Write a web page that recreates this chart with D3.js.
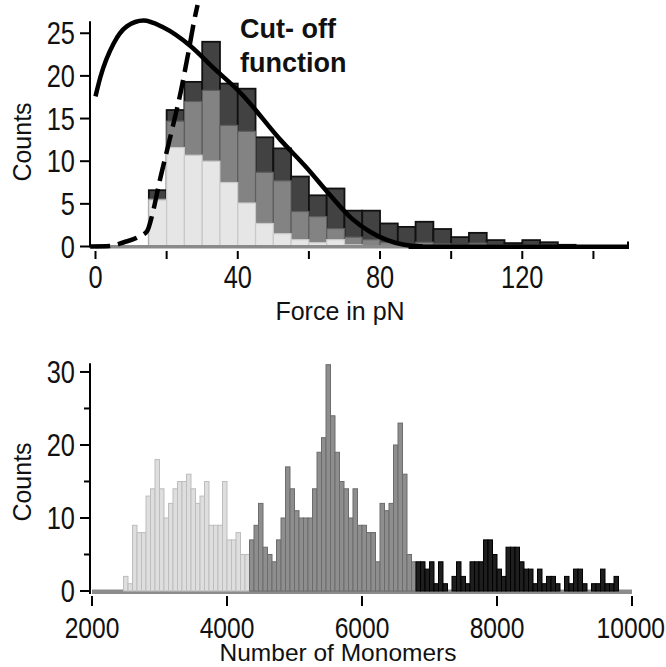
<!DOCTYPE html>
<html><head><meta charset="utf-8">
<script src="https://cdn.jsdelivr.net/npm/d3@7"></script>
<style>
html,body{margin:0;padding:0;background:#fff;}
svg text{font-family:"Liberation Sans",Arial,Helvetica,sans-serif;fill:#111;}
</style></head>
<body>
<svg id="chart" width="666" height="667"></svg>
<script>
// ---------- DATA: top panel (force histogram, bins of 5 pN) ----------
const forceBinStarts = [15,20,25,30,35,40,45,50,55,60,65,70,75,80,85,90,95,100,105,110,115,120,125,130,135,140,145];
const forceBinWidth = 5;
const countsDark  = [6.6,16.0,19.3,24.0,19.1,18.5,12.8,11.5,8.2,6.0,6.8,4.2,4.2,2.7,2.3,2.9,2.05,1.1,1.6,0.75,0.4,0.75,0.5,0.2,0,0,0];
const countsMed   = [5.6,14.7,17.0,18.3,14.2,13.5,8.7,7.7,4.1,3.5,2.1,1.1,0.8,0.5,0.3,0.5,0.3,0.2,0.4,0.2,0,0.2,0,0,0,0,0];
const countsLight = [5.45,11.6,10.7,10.0,7.5,5.1,2.7,1.5,0.8,0.45,0.8,0.2,0,0,0,0,0,0,0,0,0,0,0,0,0,0,0];
// fitted distribution (solid) and cut-off function (dashed)
const fitForce  = [0,1.4,5.1,8.8,13.5,19,26.7,33,40.8,52,59,66,72,77.3,86.8,92];
const fitCounts = [17.6,19.9,23.8,25.8,26.5,25.7,23.5,21.0,18.0,12.5,9.4,6.0,3.3,1.7,0.2,0];
const cutForce  = [-1.5,4,8,12,14.5,16,18,21,24,26,28,28.7];
const cutCounts = [0,0.05,0.5,1.1,1.8,3.8,7.6,12.8,18.2,22.5,27,28.3];
const forceTicks = [0,40,80,120];
const forceMinorTicks = [20,60,100,140];
const countTicksTop = [0,5,10,15,20,25];

// ---------- DATA: bottom panel (number of monomers, 120 bins over 2000–10000) ----------
const monoMin = 2000, monoMax = 10000, monoBinWidth = 8000/120;
const lightFirstBin = 7;
const monoLight = [2,1,9,8,8,13,14,18,14,10,12,14,15,15,16,14,12,13,15,9,9,9,15,7,7,8,5,5];
const medFirstBin = 35;
const monoMed = [7,9,12,6,5,4,7,10,17,14,11,10,10,10,14,19,21,31,24,19,15,14,10,14,9,9,8,8,4,12,11,12,20,23,16,5,4];
const darkFirstBin = 72;
const monoDark = [4,4,3,4,1,4,1,0,2,4,2,1,4,4,4,7,7,5,3,2,6,6,6,4,3,3,1,3,1,2,2,1,0,2,1,3,3,1,0,1,1,3,1,1,2];
const monoTicks = [2000,4000,6000,8000,10000];
const countTicksBot = [0,10,20,30];
const countMinorBot = [5,15,25];

// ---------- DRAW ----------
const svg = d3.select("#chart");
const NARROW = 0.82;   // tick labels use a condensed look
function tickText(g, x, y, str, anchor, size){
  return g.append("text")
    .attr("transform", `translate(${x},${y}) scale(${NARROW},1)`)
    .attr("text-anchor", anchor).attr("font-size", size).text(str);
}

// ===== top panel =====
const xT = d3.scaleLinear().domain([0,150]).range([95.5,629]);
const yT = d3.scaleLinear().domain([0,26.4]).range([246.5,21.3]);
const gT = svg.append("g");

function drawTopBars(vals, fill, stroke, sw){
  gT.append("g").selectAll("rect").data(forceBinStarts.map((s,i)=>({s,v:vals[i]})).filter(d=>d.v>0))
    .join("rect")
    .attr("x", d=>xT(d.s)).attr("width", d=>xT(d.s+forceBinWidth)-xT(d.s))
    .attr("y", d=>yT(d.v)).attr("height", d=>yT(0)-yT(d.v))
    .attr("fill", fill).attr("stroke", stroke).attr("stroke-width", sw);
}
drawTopBars(countsDark, "#424242", "#111", 1.8);
drawTopBars(countsMed, "#838383", "#5e5e5e", 1.2);
drawTopBars(countsLight, "#e6e6e6", "#c9c9c9", 1.2);

// baseline band
gT.append("rect").attr("x", xT(0)).attr("width", xT(88)-xT(0)).attr("y", yT(0)-1.5).attr("height", 3.5).attr("fill","#8a8a8a");
gT.append("rect").attr("x", xT(88)).attr("width", xT(150)-xT(88)).attr("y", yT(0)-2).attr("height", 4.5).attr("fill","#000");
gT.append("rect").attr("x", xT(150)-2).attr("width", 2).attr("y", yT(0)-5).attr("height", 7).attr("fill","#000");

// curves
const fitLine = d3.line().x(d=>xT(d[0])).y(d=>yT(d[1])).curve(d3.curveMonotoneX);
gT.append("path").datum(fitForce.map((f,i)=>[f,fitCounts[i]]))
  .attr("d", fitLine).attr("fill","none").attr("stroke","#000").attr("stroke-width",4.5);
gT.append("path").datum(cutForce.map((f,i)=>[f,cutCounts[i]]))
  .attr("d", fitLine).attr("fill","none").attr("stroke","#000").attr("stroke-width",4.5)
  .attr("stroke-dasharray","20,8");

// axes
gT.append("line").attr("x1",90).attr("x2",90).attr("y1",yT(26.4)).attr("y2",yT(0)+1).attr("stroke","#000").attr("stroke-width",2);
gT.selectAll(".yt").data(countTicksTop).join("line")
  .attr("x1",80).attr("x2",90).attr("y1",d=>yT(d)).attr("y2",d=>yT(d)).attr("stroke","#000").attr("stroke-width",2);
countTicksTop.forEach(d=>tickText(gT, 75, yT(d)+11, d, "end", 31));
gT.selectAll(".xt").data(forceTicks.concat(forceMinorTicks)).join("line")
  .attr("x1",d=>xT(d)).attr("x2",d=>xT(d)).attr("y1",251).attr("y2",259).attr("stroke","#000").attr("stroke-width",2);
forceTicks.forEach(d=>tickText(gT, xT(d), 288, d, "middle", 31));
gT.append("text").attr("x",340).attr("y",320).attr("text-anchor","middle").attr("font-size",25).text("Force in pN");
gT.append("text").attr("transform","translate(31,142) rotate(-90)").attr("text-anchor","middle").attr("font-size",25).text("Counts");
gT.append("text").attr("x",240).attr("y",38).attr("font-size",27).attr("font-weight","bold").text("Cut- off");
gT.append("text").attr("x",240).attr("y",72).attr("font-size",27).attr("font-weight","bold").text("function");

// ===== bottom panel =====
const xB = d3.scaleLinear().domain([monoMin,monoMax]).range([92,632]);
const yB = d3.scaleLinear().domain([0,31.2]).range([591,363.2]);
const gB = svg.append("g");

gB.append("rect").attr("x", xB(monoMin)).attr("width", xB(monoMax)-xB(monoMin)).attr("y", yB(0)-1.5).attr("height", 4.5).attr("fill","#8c8c8c");

function drawBotBars(vals, first, fill, stroke){
  gB.append("g").selectAll("rect").data(vals.map((v,i)=>({b:first+i,v})).filter(d=>d.v>0))
    .join("rect")
    .attr("x", d=>xB(monoMin+d.b*monoBinWidth)).attr("width", d=>xB(monoMin+(d.b+1)*monoBinWidth)-xB(monoMin+d.b*monoBinWidth))
    .attr("y", d=>yB(d.v)).attr("height", d=>yB(0)-yB(d.v))
    .attr("fill", fill).attr("stroke", stroke).attr("stroke-width", 1);
}
drawBotBars(monoLight, lightFirstBin, "#dedede", "#bdbdbd");
drawBotBars(monoMed, medFirstBin, "#8e8e8e", "#6c6c6c");
drawBotBars(monoDark, darkFirstBin, "#1e1e1e", "#000");

gB.append("line").attr("x1",90).attr("x2",90).attr("y1",yB(31.2)).attr("y2",yB(0)+3).attr("stroke","#000").attr("stroke-width",2);
gB.selectAll(".yt").data(countTicksBot).join("line")
  .attr("x1",80).attr("x2",90).attr("y1",d=>yB(d)).attr("y2",d=>yB(d)).attr("stroke","#000").attr("stroke-width",2);
gB.selectAll(".ytm").data(countMinorBot).join("line")
  .attr("x1",84).attr("x2",90).attr("y1",d=>yB(d)).attr("y2",d=>yB(d)).attr("stroke","#000").attr("stroke-width",2);
countTicksBot.forEach(d=>tickText(gB, 75, yB(d)+11, d, "end", 31));
gB.selectAll(".xt").data(monoTicks).join("line")
  .attr("x1",d=>xB(d)).attr("x2",d=>xB(d)).attr("y1",596).attr("y2",606).attr("stroke","#000").attr("stroke-width",2);
monoTicks.forEach(d=>{
  const t = tickText(gB, xB(d), 638, d, "middle", 30);
  const w = t.node().getComputedTextLength()*NARROW;
  if (xB(d)+w/2 > 665) t.attr("transform", `translate(${665-w/2},638) scale(${NARROW},1)`);
});
gB.append("text").attr("x",338).attr("y",661).attr("text-anchor","middle").attr("font-size",24.5).text("Number of Monomers");
gB.append("text").attr("transform","translate(31,482) rotate(-90)").attr("text-anchor","middle").attr("font-size",25).text("Counts");
</script>
</body></html>
